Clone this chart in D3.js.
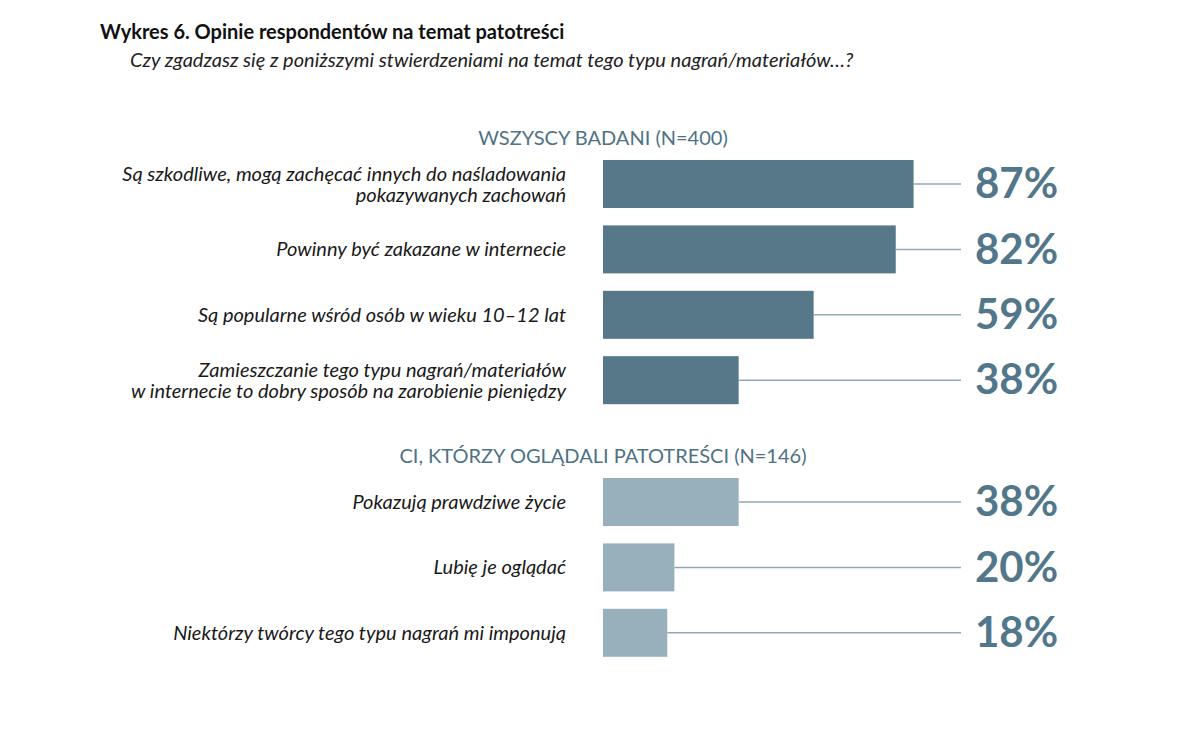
<!DOCTYPE html>
<html>
<head>
<meta charset="utf-8">
<script src="https://cdn.jsdelivr.net/npm/d3@7"></script>
<style>
  html, body { margin: 0; padding: 0; background: #fff; }
  svg { display: block; }
</style>
</head>
<body>
<svg id="chart" width="1200" height="738"></svg>
<script>
const titleText = "Wykres 6. Opinie respondentów na temat patotreści";
const subtitleText = "Czy zgadzasz się z poniższymi stwierdzeniami na temat tego typu nagrań/materiałów…?";

const group1Title = "WSZYSCY BADANI (N=400)";
const group1Labels = [
  ["Są szkodliwe, mogą zachęcać innych do naśladowania", "pokazywanych zachowań"],
  ["Powinny być zakazane w internecie"],
  ["Są popularne wśród osób w wieku 10–12 lat"],
  ["Zamieszczanie tego typu nagrań/materiałów", "w internecie to dobry sposób na zarobienie pieniędzy"]
];
const group1Values = [87, 82, 59, 38];

const group2Title = "CI, KTÓRZY OGLĄDALI PATOTREŚCI (N=146)";
const group2Labels = [
  ["Pokazują prawdziwe życie"],
  ["Lubię je oglądać"],
  ["Niektórzy twórcy tego typu nagrań mi imponują"]
];
const group2Values = [38, 20, 18];

const svg = d3.select("#chart");
const FONT = "Lato, 'Open Sans', sans-serif";

svg.append("text")
  .attr("x", 100).attr("y", 39)
  .attr("font-family", FONT).attr("font-weight", 700)
  .attr("font-size", 20).attr("fill", "#111")
  .text(titleText);

svg.append("text")
  .attr("x", 130).attr("y", 67)
  .attr("font-family", FONT).attr("font-style", "italic")
  .attr("font-size", 20).attr("fill", "#222")
  .text(subtitleText);

const x = d3.scaleLinear().domain([0, 100]).range([603, 960]);
const lineEnd = 961;
const step = 65.4;
const bandH = 48;
const padInner = (step - bandH) / step;

function drawGroup(title, labels, values, barTop, color) {
  const idx = d3.range(values.length);
  const y = d3.scaleBand()
    .domain(idx)
    .range([barTop - step * padInner / 2, barTop - step * padInner / 2 + step * values.length])
    .paddingInner(padInner)
    .paddingOuter(padInner / 2);

  svg.append("text")
    .attr("x", x(0)).attr("y", barTop - 15)
    .attr("text-anchor", "middle")
    .attr("font-family", FONT).attr("font-size", 20)
    .attr("fill", "#4f7285")
    .text(title);

  const g = svg.append("g");
  const rows = g.selectAll("g.row").data(idx).join("g").attr("class", "row");

  rows.append("line")
    .attr("x1", i => x(values[i])).attr("x2", lineEnd)
    .attr("y1", i => y(i) + y.bandwidth() / 2)
    .attr("y2", i => y(i) + y.bandwidth() / 2)
    .attr("stroke", "#8faab7").attr("stroke-width", 1.5);

  rows.append("rect")
    .attr("x", x(0))
    .attr("y", i => y(i))
    .attr("width", i => x(values[i]) - x(0))
    .attr("height", y.bandwidth())
    .attr("fill", color);

  rows.append("text")
    .attr("x", 975)
    .attr("y", i => y(i) + y.bandwidth() / 2)
    .attr("dy", "0.34em")
    .attr("font-family", FONT).attr("font-weight", 700)
    .attr("font-size", 42).attr("fill", "#52778a")
    .text(i => values[i] + "%");

  const lbl = rows.append("text")
    .attr("text-anchor", "end")
    .attr("font-family", FONT).attr("font-style", "italic")
    .attr("font-size", 20).attr("fill", "#1a1a1a");

  lbl.each(function(i) {
    const lines = labels[i];
    const cy = y(i) + y.bandwidth() / 2;
    const lh = 21;
    d3.select(this).selectAll("tspan").data(lines).join("tspan")
      .attr("x", 566)
      .attr("y", (d, k) => cy + (k - (lines.length - 1) / 2) * lh)
      .attr("dy", "0.35em")
      .text(d => d);
  });
}

drawGroup(group1Title, group1Labels, group1Values, 160, "#567888");
drawGroup(group2Title, group2Labels, group2Values, 478, "#97b0bc");
</script>
</body>
</html>
